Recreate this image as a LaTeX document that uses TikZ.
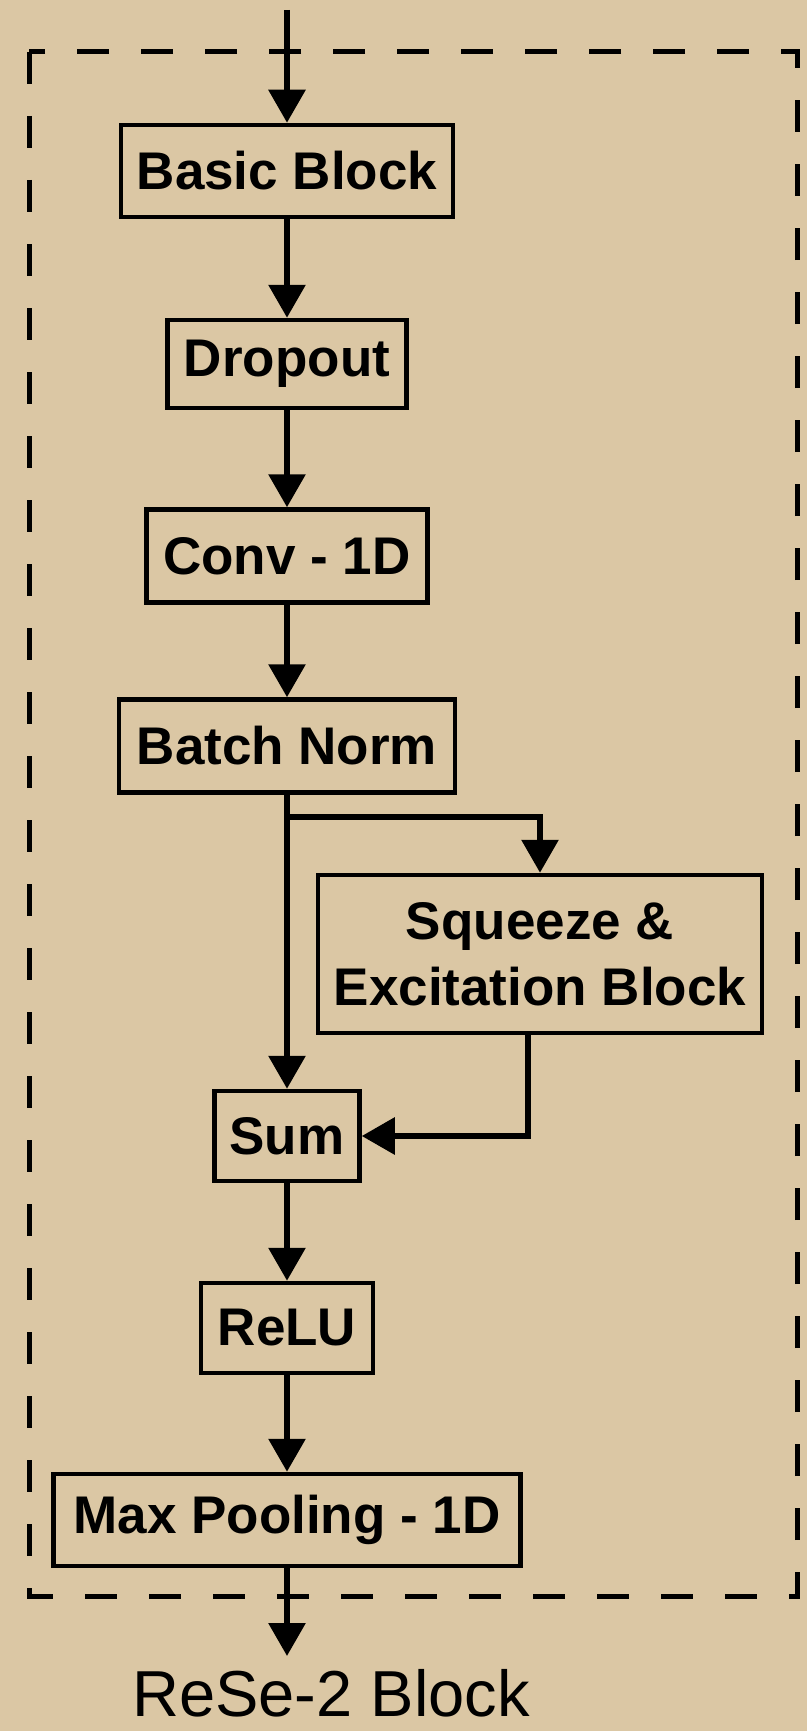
\documentclass[tikz,border=0pt]{standalone}
\usepackage{fontspec}
\setmainfont{Liberation Sans}
\usetikzlibrary{arrows.meta}
\definecolor{paper}{RGB}{219,199,164}
\begin{document}
\begin{tikzpicture}[x=1pt,y=-1pt,
  blk/.style={draw=black,line width=4.5pt,inner sep=0pt,align=center,
    font=\fontsize{53}{66}\selectfont\bfseries},
  arr/.style={line width=6pt,-{Triangle[width=36pt,length=33pt]}},
  frame/.style={line width=5pt,dash pattern=on 32pt off 32pt}]
\fill[paper] (0,0) rectangle (807,1731);
\useasboundingbox (0,0) rectangle (807,1731);
\draw[frame] (29,52) rectangle (797,1596);
\node[blk,minimum width=332pt,minimum height=92pt] (basic) at (287,171) {Basic Block};
\node[blk,minimum width=239pt,minimum height=88pt] (drop) at (287,364) {Dropout};
\node[blk,minimum width=281pt,minimum height=93pt] (conv) at (287,556) {Conv - 1D};
\node[blk,minimum width=336pt,minimum height=93pt] (bn) at (287,746) {Batch Norm};
\node[blk,minimum width=444pt,minimum height=158pt] (se) at (540,954) {Squeeze \&\\Excitation Block};
\node[blk,minimum width=145pt,minimum height=90pt] (sum) at (287,1136) {Sum};
\node[blk,minimum width=172pt,minimum height=90pt] (relu) at (287,1328) {ReLU};
\node[blk,minimum width=467pt,minimum height=92pt] (mp) at (287,1520) {Max Pooling - 1D};
\coordinate (in) at (287,10);
\coordinate (out) at (287,1656);
\coordinate (br) at (287,817);
\node[font=\fontsize{65}{70}\selectfont,inner sep=0pt,anchor=base] (lbl) at (331,1716) {ReSe-2 Block};
\draw[arr] (in) -- (basic.north);
\draw[arr] (basic.south) -- (drop.north);
\draw[arr] (drop.south) -- (conv.north);
\draw[arr] (conv.south) -- (bn.north);
\draw[arr] (bn.south) -- (sum.north);
\draw[arr] (br) -| (se.north);
\draw[arr] ([xshift=-12pt]se.south) |- (sum.east);
\draw[arr] (sum.south) -- (relu.north);
\draw[arr] (relu.south) -- (mp.north);
\draw[arr] (mp.south) -- (out);
\end{tikzpicture}
\end{document}
